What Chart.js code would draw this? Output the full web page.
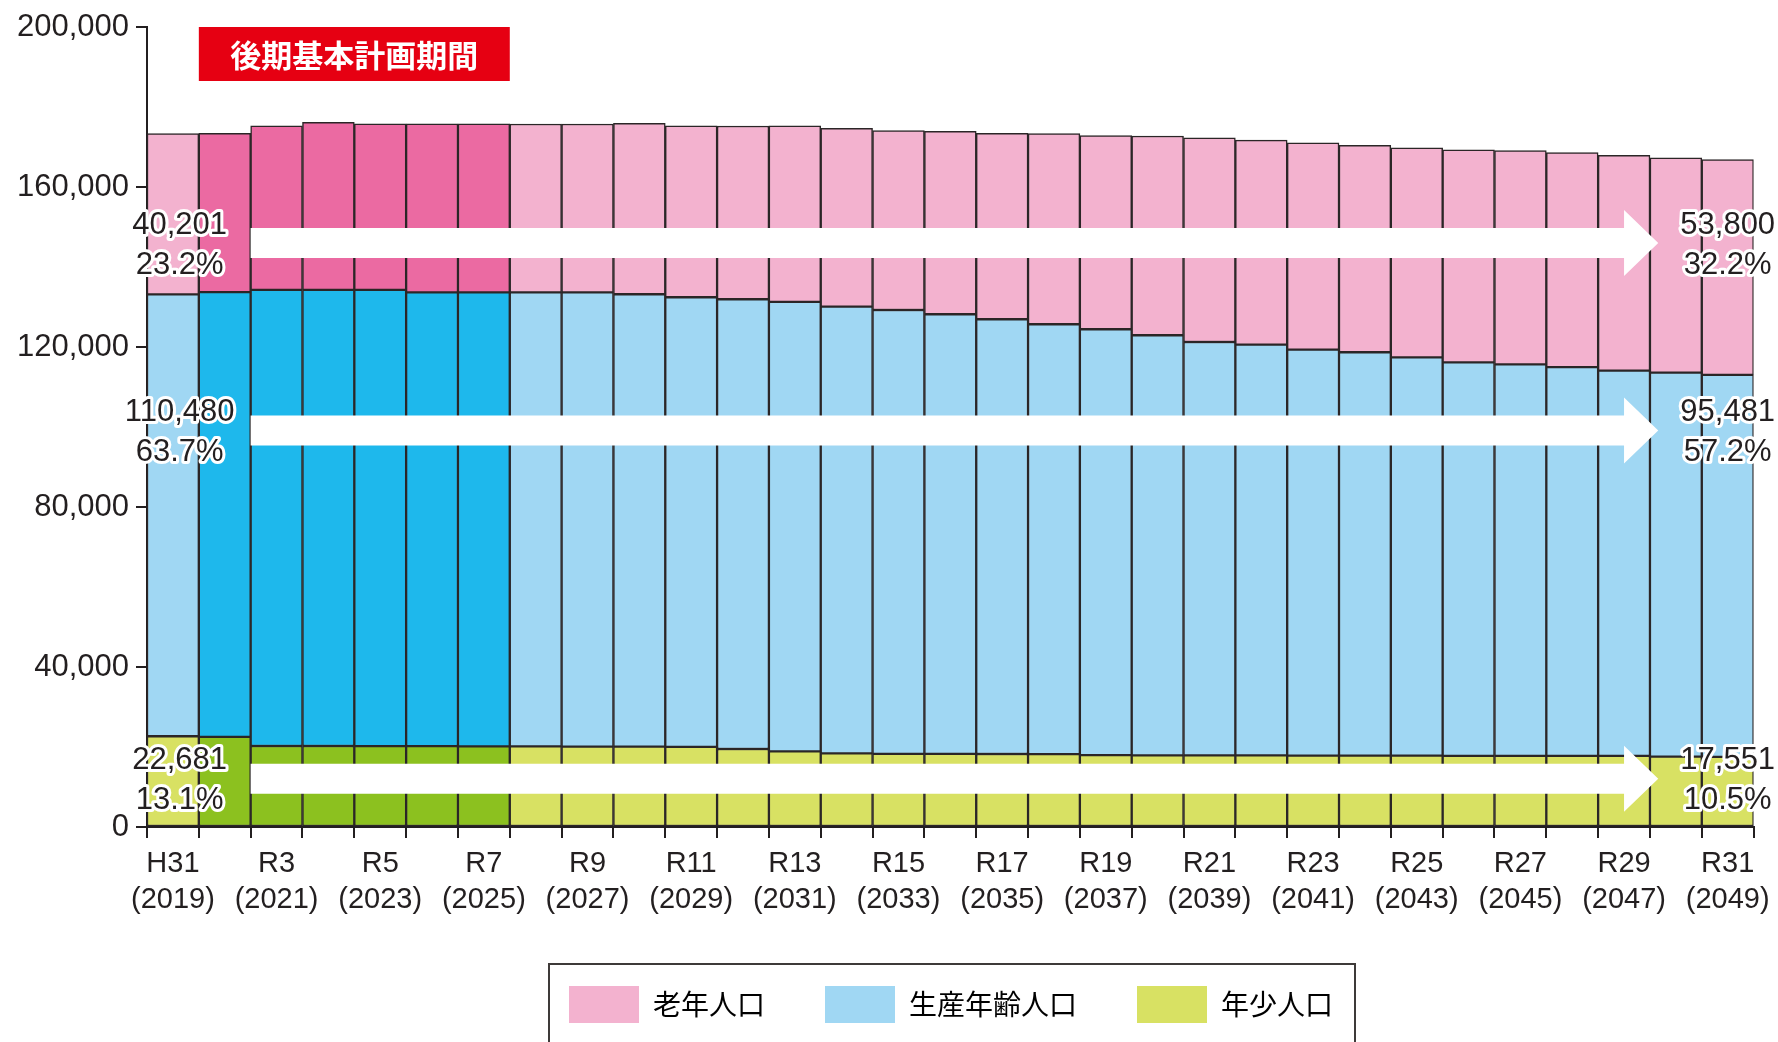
<!DOCTYPE html>
<html lang="ja">
<head>
<meta charset="utf-8">
<title>将来人口推計</title>
<script src="https://cdn.jsdelivr.net/npm/chart.js@4/dist/chart.umd.min.js"></script>
<style>
  html, body { margin: 0; padding: 0; background: #fff; }
</style>
</head>
<body>
<canvas id="popChart" width="1778" height="1042"></canvas>
<script>
// data (people)
const eraLabels = ['H31', 'R2', 'R3', 'R4', 'R5', 'R6', 'R7', 'R8', 'R9', 'R10', 'R11', 'R12', 'R13', 'R14', 'R15', 'R16',
                   'R17', 'R18', 'R19', 'R20', 'R21', 'R22', 'R23', 'R24', 'R25', 'R26', 'R27', 'R28', 'R29', 'R30', 'R31'];
const years = [2019, 2020, 2021, 2022, 2023, 2024, 2025, 2026, 2027, 2028, 2029, 2030, 2031, 2032, 2033, 2034,
               2035, 2036, 2037, 2038, 2039, 2040, 2041, 2042, 2043, 2044, 2045, 2046, 2047, 2048, 2049];
const elderly = [40201, 39695, 41010, 41860, 41520, 42130, 42130, 42090, 42090, 42710, 42860, 43310, 44030, 44550, 44840, 45710,
                 46470, 47670, 48420, 49810, 51040, 51120, 51710, 51710, 52380, 53130, 53460, 53630, 53800, 53710, 53800];
const working = [110480, 111155, 114040, 114040, 114080, 113470, 113520, 113510, 113560, 113090, 112390, 112440, 112370, 111700, 110960, 109890,
                 108680, 107480, 106480, 105040, 103360, 102680, 101490, 100840, 99570, 98370, 97840, 97170, 96300, 95990, 95481];
const youth = [22681, 22550, 20250, 20250, 20200, 20200, 20150, 20150, 20100, 20100, 20050, 19500, 18900, 18400, 18300, 18300,
               18250, 18200, 17950, 17900, 17900, 17900, 17850, 17850, 17850, 17800, 17800, 17800, 17800, 17600, 17551];
const yTicks = [0, 40000, 80000, 120000, 160000, 200000];

// 後期基本計画期間 = R2..R7
const planStart = 1, planEnd = 6;

const FONT = "'Liberation Sans', Arial, sans-serif";
const JP = "'Noto Sans CJK JP', sans-serif";
const INK = '#231f20';

const light = { elderly: '#f3b2cf', working: '#a0d7f3', youth: '#d8e163' };
const dark = { elderly: '#eb6aa2', working: '#1eb8ec', youth: '#8cc11f' };

function barColors(key) {
    return years.map((y, i) => (i >= planStart && i <= planEnd) ? dark[key] : light[key]);
}

function total(i) {
    return elderly[i] + working[i] + youth[i];
}

function pct(v, i) {
    return (v / total(i) * 100).toFixed(1) + '%';
}

// red banner, white arrows and the start / end annotations
const overlay = {
    id: 'overlay',
    afterLayout(chart) {
        // legend sits right of centre in the original
        chart.legend.left += 74;
        chart.legend.right += 74;
    },
    afterDatasetsDraw(chart) {
        const ctx = chart.ctx;
        const x = chart.scales.x, y = chart.scales.y;
        ctx.save();

        // planning period banner
        const bx0 = x.getPixelForValue(planStart - 0.5);
        const bx1 = x.getPixelForValue(planEnd + 0.5);
        const by0 = y.getPixelForValue(200000);
        ctx.fillStyle = '#e60012';
        ctx.fillRect(bx0, by0, bx1 - bx0, 54);
        ctx.fillStyle = '#fff';
        ctx.font = 'bold 31px ' + JP;
        ctx.textAlign = 'center';
        ctx.textBaseline = 'middle';
        ctx.fillText('後期基本計画期間', (bx0 + bx1) / 2, by0 + 28);

        // arrows
        const ax0 = x.getPixelForValue(1.5);
        const ax1 = x.getPixelForValue(28);
        const ax2 = x.getPixelForValue(28.66);
        const rows = [
            { yc: y.getPixelForValue(146000), series: elderly },
            { yc: y.getPixelForValue(99100), series: working },
            { yc: y.getPixelForValue(12050), series: youth }
        ];
        ctx.fillStyle = '#fff';
        rows.forEach(r => {
            ctx.beginPath();
            ctx.moveTo(ax0, r.yc - 15);
            ctx.lineTo(ax1, r.yc - 15);
            ctx.lineTo(ax1, r.yc - 33);
            ctx.lineTo(ax2, r.yc);
            ctx.lineTo(ax1, r.yc + 33);
            ctx.lineTo(ax1, r.yc + 15);
            ctx.lineTo(ax0, r.yc + 15);
            ctx.closePath();
            ctx.fill();
        });

        // numbers with white halo
        const last = years.length - 1;
        const lx = x.getPixelForValue(0.13);
        const rx = x.getPixelForValue(last);
        ctx.font = '31px ' + FONT;
        ctx.lineJoin = 'round';
        ctx.lineWidth = 6;
        ctx.strokeStyle = '#fff';
        ctx.fillStyle = INK;
        const halo = (t, tx, ty) => { ctx.strokeText(t, tx, ty); ctx.fillText(t, tx, ty); };
        rows.forEach(r => {
            const s = r.series;
            halo(s[0].toLocaleString('en-US'), lx, r.yc - 18);
            halo(pct(s[0], 0), lx, r.yc + 22);
            halo(s[last].toLocaleString('en-US'), rx, r.yc - 18);
            halo(pct(s[last], last), rx, r.yc + 22);
        });
        ctx.restore();
    },
    afterDraw(chart) {
        // frame round the legend
        const lg = chart.legend;
        const cx = (lg.left + lg.right) / 2;
        const ctx = chart.ctx;
        ctx.save();
        ctx.strokeStyle = '#3e3a39';
        ctx.lineWidth = 2;
        ctx.strokeRect(cx - 402, lg.top + 38, 806, 200);
        ctx.restore();
    }
};

const ctx = document.getElementById('popChart').getContext('2d');
new Chart(ctx, {
    type: 'bar',
    data: {
        labels: eraLabels,
        datasets: [
            { label: '年少人口', data: youth, backgroundColor: barColors('youth') },
            { label: '生産年齢人口', data: working, backgroundColor: barColors('working') },
            { label: '老年人口', data: elderly, backgroundColor: barColors('elderly') }
        ]
    },
    options: {
        responsive: false,
        animation: false,
        layout: { padding: { top: 27, right: 24, bottom: 9, left: 0 } },
        datasets: {
            bar: {
                barPercentage: 1,
                categoryPercentage: 1,
                borderWidth: 1.5,
                borderColor: '#2b2627',
                borderSkipped: false
            }
        },
        scales: {
            x: {
                stacked: true,
                grid: { offset: true, drawOnChartArea: false, tickLength: 11, color: INK, lineWidth: 2 },
                border: { color: INK, width: 2 },
                ticks: {
                    autoSkip: false,
                    maxRotation: 0,
                    padding: 8,
                    color: INK,
                    font: { family: FONT, size: 29, lineHeight: 1.25 },
                    callback: (v, i) => i % 2 === 0 ? [eraLabels[i], '(' + years[i] + ')'] : ''
                },
                afterFit: s => { s.height = 99; }
            },
            y: {
                stacked: true,
                min: 0,
                max: 200000,
                afterBuildTicks: s => { s.ticks = yTicks.map(v => ({ value: v })); },
                grid: { drawOnChartArea: false, tickLength: 11, color: INK, lineWidth: 2 },
                border: { color: INK, width: 2 },
                ticks: {
                    padding: 7,
                    color: INK,
                    font: { family: FONT, size: 31 },
                    callback: v => v.toLocaleString('en-US')
                },
                afterFit: s => { s.width = 147; }
            }
        },
        plugins: {
            tooltip: { enabled: false },
            legend: {
                position: 'bottom',
                labels: {
                    boxWidth: 70,
                    boxHeight: 37,
                    padding: 60,
                    color: INK,
                    font: { family: JP, size: 28 },
                    generateLabels: chart => [2, 1, 0].map(i => ({
                        text: chart.data.datasets[i].label,
                        fillStyle: [light.youth, light.working, light.elderly][i],
                        strokeStyle: 'rgba(0,0,0,0)',
                        lineWidth: 0,
                        hidden: false,
                        datasetIndex: i
                    }))
                }
            }
        }
    },
    plugins: [overlay]
});
</script>
</body>
</html>
